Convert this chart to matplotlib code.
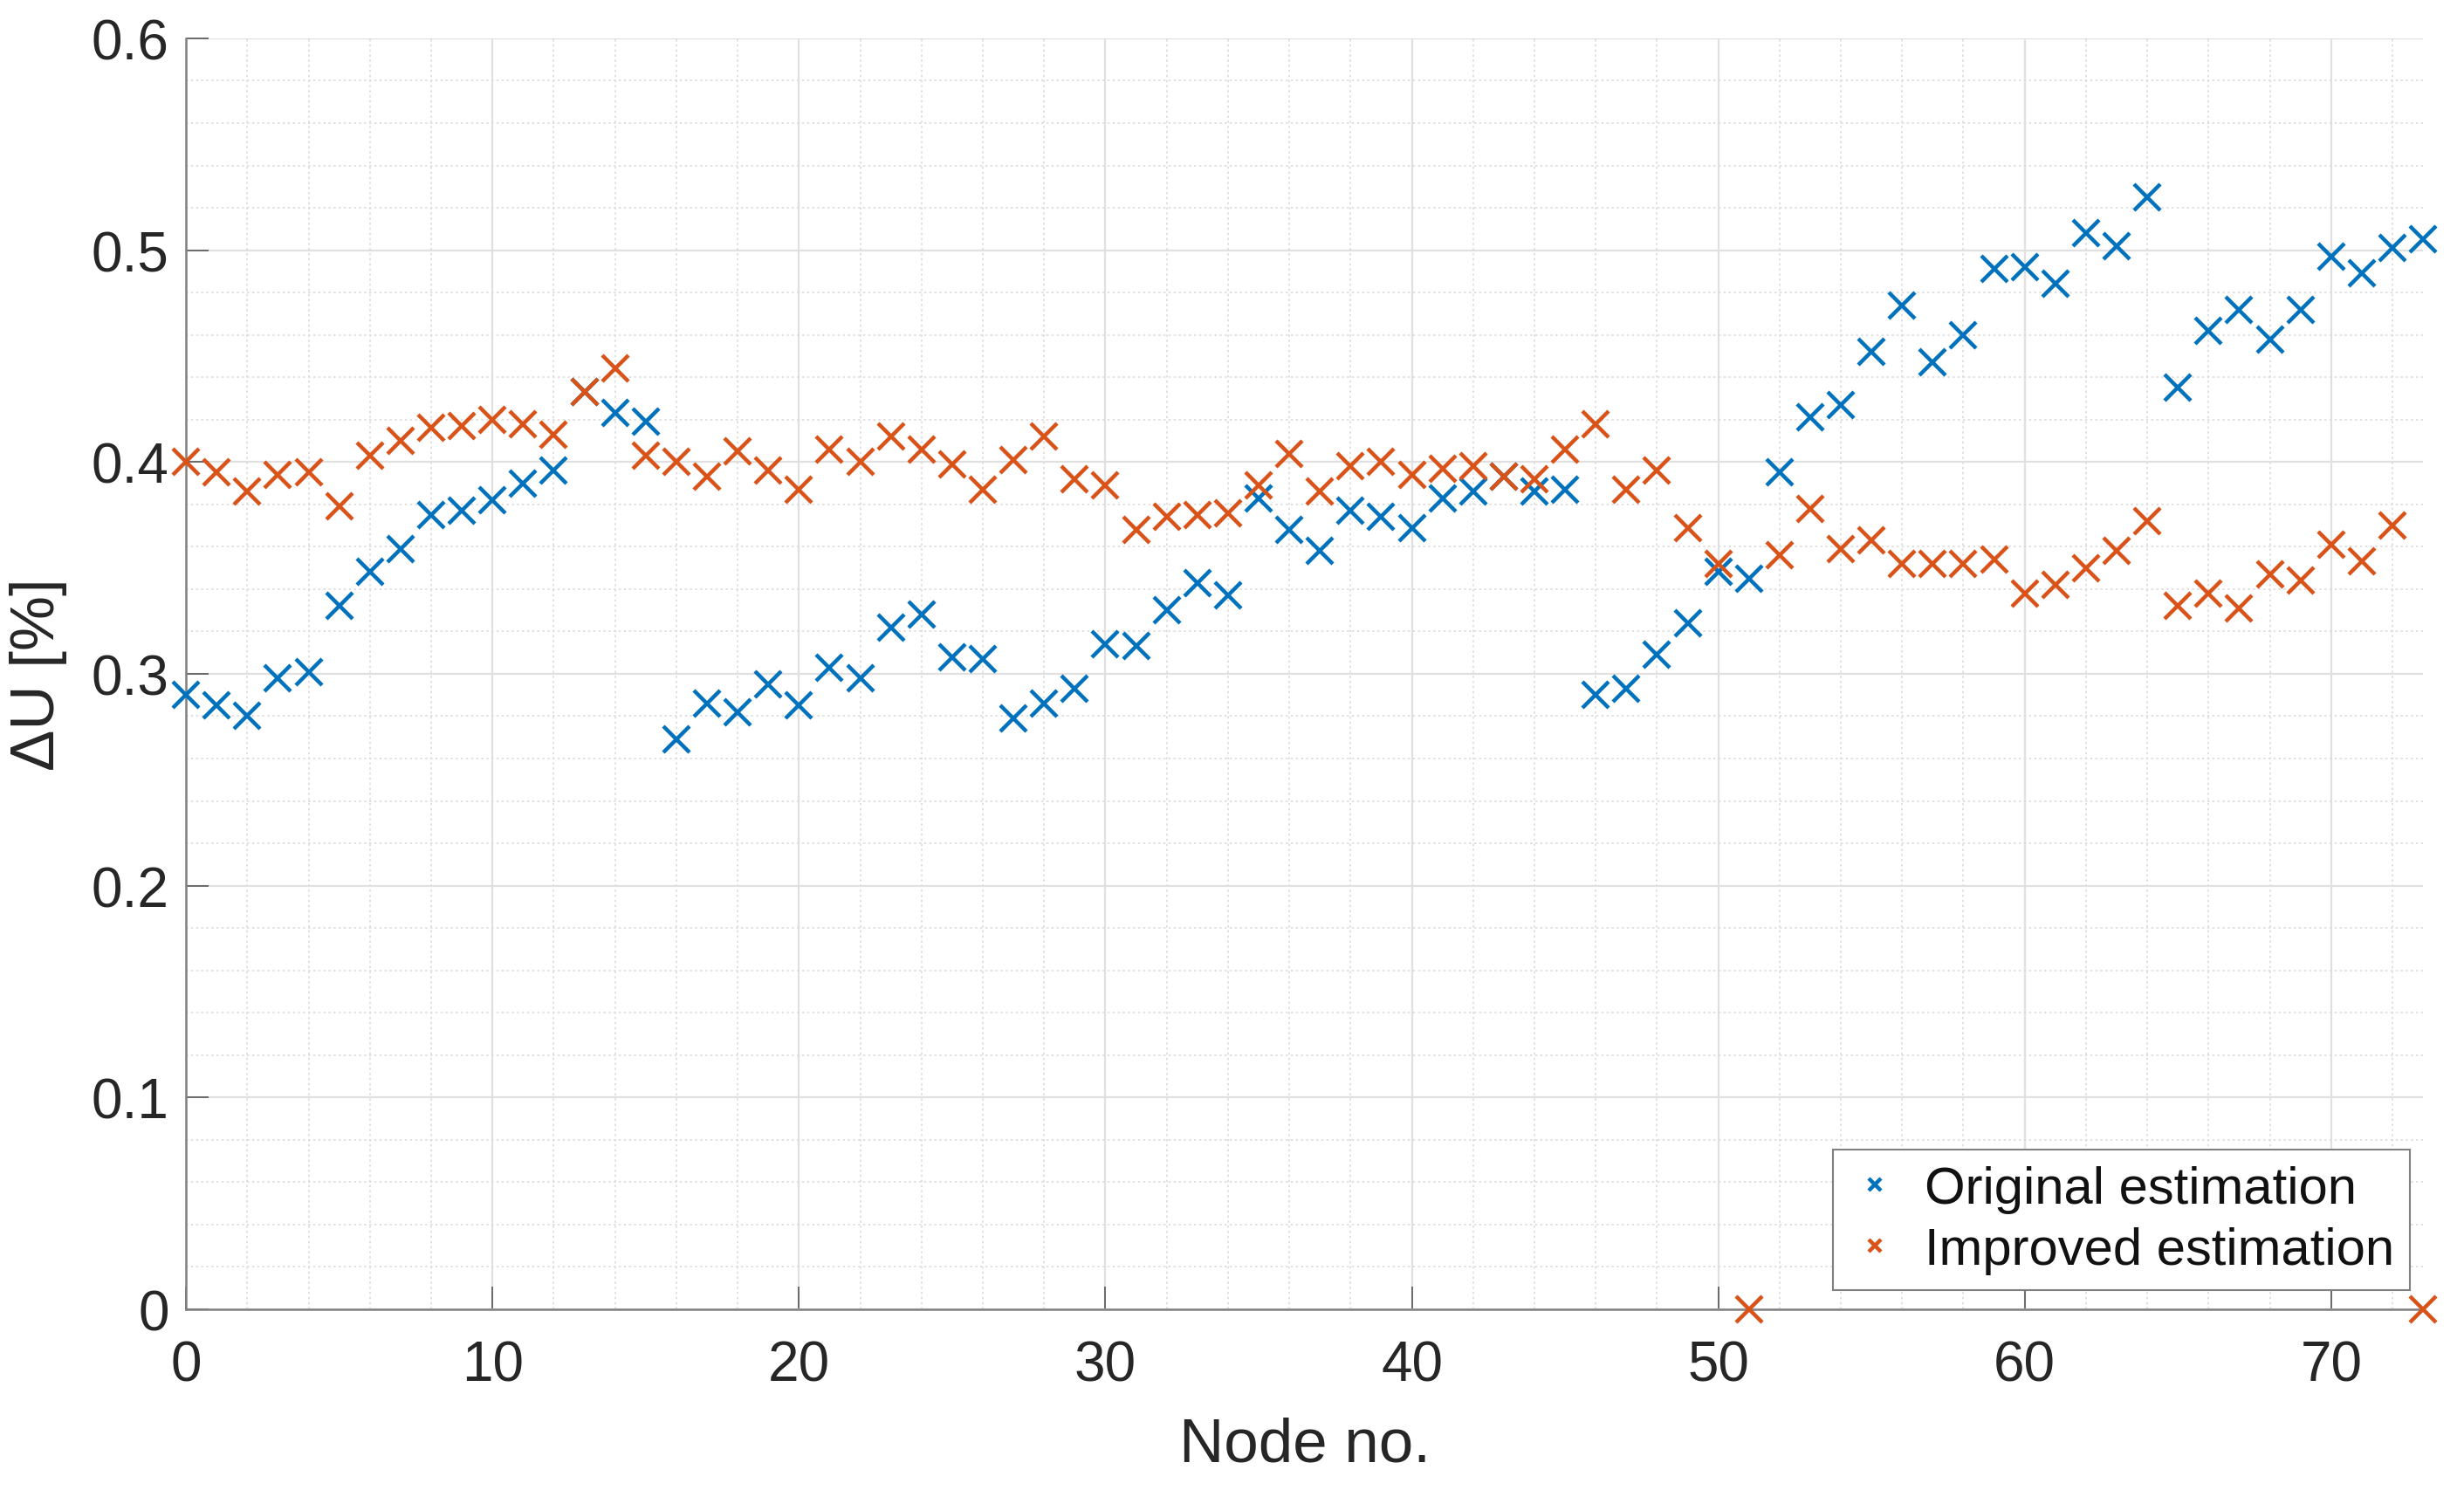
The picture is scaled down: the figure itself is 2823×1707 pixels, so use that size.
import matplotlib
matplotlib.use('Agg')
from matplotlib import pyplot as plt
from matplotlib.ticker import MultipleLocator

# node numbers and voltage deviation values
nodes = list(range(74))
original = [0.290, 0.285, 0.280, 0.298, 0.301, 0.332, 0.348, 0.359, 0.375, 0.377,
            0.382, 0.390, 0.396, 0.433, 0.423, 0.419, 0.269, 0.286, 0.282, 0.295,
            0.285, 0.303, 0.298, 0.322, 0.328, 0.308, 0.307, 0.279, 0.286, 0.293,
            0.314, 0.313, 0.330, 0.343, 0.337, 0.383, 0.368, 0.358, 0.377, 0.374,
            0.369, 0.383, 0.386, 0.393, 0.386, 0.387, 0.290, 0.293, 0.309, 0.324,
            0.348, 0.345, 0.395, 0.421, 0.427, 0.452, 0.474, 0.447, 0.460, 0.491,
            0.492, 0.484, 0.508, 0.502, 0.525, 0.435, 0.462, 0.472, 0.458, 0.472,
            0.497, 0.489, 0.501, 0.505]
improved = [0.400, 0.395, 0.386, 0.394, 0.395, 0.379, 0.403, 0.410, 0.416, 0.417,
            0.420, 0.418, 0.413, 0.433, 0.444, 0.403, 0.400, 0.393, 0.405, 0.396,
            0.387, 0.406, 0.400, 0.412, 0.406, 0.399, 0.387, 0.401, 0.412, 0.392,
            0.389, 0.368, 0.374, 0.375, 0.376, 0.389, 0.404, 0.386, 0.398, 0.400,
            0.394, 0.397, 0.398, 0.393, 0.392, 0.406, 0.418, 0.387, 0.396, 0.369,
            0.352, 0.0, 0.356, 0.378, 0.359, 0.363, 0.352, 0.352, 0.352, 0.354,
            0.338, 0.342, 0.350, 0.358, 0.372, 0.332, 0.338, 0.331, 0.347, 0.344,
            0.361, 0.353, 0.370, 0.0]

plt.rcParams['font.family'] = ['Liberation Sans', 'DejaVu Sans']

fig = plt.figure(figsize=(28.23, 17.08), dpi=100)
ax = fig.add_axes([0.0755, 0.1212, 0.9079, 0.8525])

ax.plot(nodes, original, 'x', color='#0072BD', ms=22, mew=3.2,
        clip_on=False, label='Original estimation', zorder=3)
ax.plot(nodes, improved, 'x', color='#D95319', ms=22, mew=3.2,
        clip_on=False, label='Improved estimation', zorder=4)

ax.set_xlim(0, 73)
ax.set_ylim(0, 0.6)
ax.xaxis.set_major_locator(MultipleLocator(10))
ax.xaxis.set_minor_locator(MultipleLocator(2))
ax.yaxis.set_major_locator(MultipleLocator(0.1))
ax.yaxis.set_minor_locator(MultipleLocator(0.02))
ax.set_yticks([0, 0.1, 0.2, 0.3, 0.4, 0.5, 0.6])
ax.set_yticklabels(['0', '0.1', '0.2', '0.3', '0.4', '0.5', '0.6'])

ax.grid(which='major', color='#e0e0e0', lw=1.6, ls='-')
ax.grid(which='minor', color='#dcdcdc', lw=1.2, ls=(0, (1.5, 2.0)))
ax.set_axisbelow(True)

for s in ['top', 'right']:
    ax.spines[s].set_visible(False)
for s in ['left', 'bottom']:
    ax.spines[s].set_color('#808080')
    ax.spines[s].set_linewidth(1.8)

ax.tick_params(which='major', direction='in', length=19, width=1.3, color='#606060',
               labelsize=46, labelcolor='#262626')
ax.tick_params(axis='x', which='major', pad=25)
ax.tick_params(axis='y', which='major', pad=14)
ax.tick_params(which='minor', length=0)

ax.set_xlabel('Node no.', fontsize=51, color='#262626', labelpad=20)
ax.set_ylabel('ΔU [%]', fontsize=51, color='#262626', labelpad=20)

leg = ax.legend(loc='lower right', bbox_to_anchor=(0.9941, 0.0151), borderaxespad=0,
                fontsize=43, markerscale=0.45, handlelength=1.0, handletextpad=0.45,
                borderpad=0.3, labelspacing=0.25, fancybox=False, framealpha=1,
                edgecolor='#808080')
leg.get_frame().set_linewidth(1.5)
for t in leg.get_texts():
    t.set_color('#111111')

fig.savefig('out.png', dpi=100)
